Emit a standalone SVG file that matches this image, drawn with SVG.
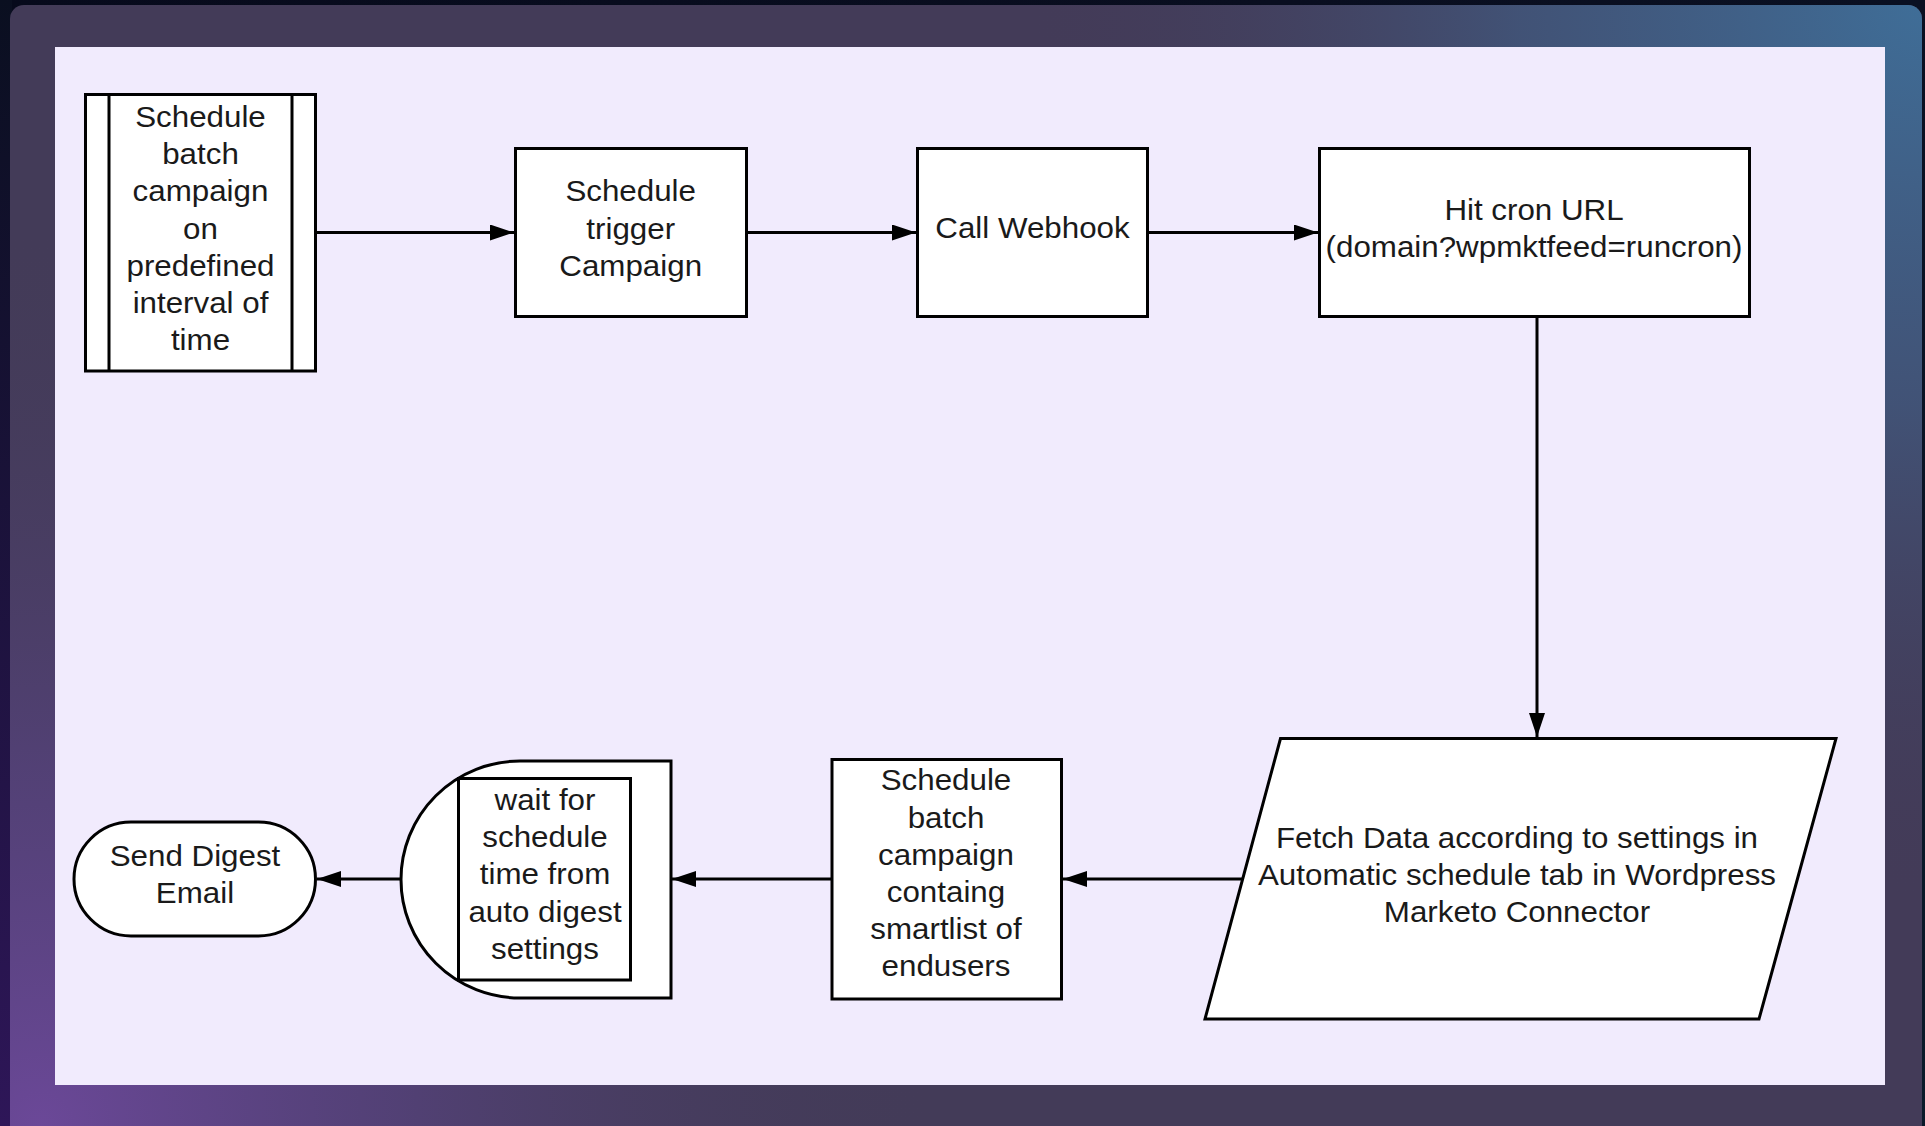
<svg xmlns="http://www.w3.org/2000/svg" width="1925" height="1126" viewBox="0 0 1925 1126">
<defs>
<linearGradient id="bgdark" x1="0" y1="0" x2="1" y2="1">
<stop offset="0" stop-color="#070a1c"/>
<stop offset="0.5" stop-color="#0a1022"/>
<stop offset="1" stop-color="#0a1a2a"/>
</linearGradient>
<linearGradient id="leftdark" x1="0" y1="0" x2="0" y2="1">
<stop offset="0" stop-color="#0a0f20"/>
<stop offset="1" stop-color="#2e1658"/>
</linearGradient>
<radialGradient id="tr" cx="1925" cy="0" r="900" gradientUnits="userSpaceOnUse">
<stop offset="0" stop-color="#3f6e98" stop-opacity="1"/>
<stop offset="0.45" stop-color="#40628a" stop-opacity="0.6"/>
<stop offset="1" stop-color="#433b58" stop-opacity="0"/>
</radialGradient>
<radialGradient id="bl" cx="40" cy="1126" r="900" gradientUnits="userSpaceOnUse">
<stop offset="0" stop-color="#6b4898" stop-opacity="1"/>
<stop offset="0.4" stop-color="#5c4488" stop-opacity="0.6"/>
<stop offset="1" stop-color="#433b58" stop-opacity="0"/>
</radialGradient>
<marker id="arr" markerUnits="userSpaceOnUse" markerWidth="26" markerHeight="18" refX="24" refY="8" orient="auto">
<path d="M0,0 L24,8 L0,16 Z" fill="#000"/>
</marker>
<style>
.shape{fill:#fff;stroke:#000;stroke-width:3}
.conn{fill:none;stroke:#000;stroke-width:3;marker-end:url(#arr)}
.t{font-family:"Liberation Sans",Arial,sans-serif;font-size:29px;fill:#1a1a1a;text-anchor:middle}
</style>
</defs>
<rect x="0" y="0" width="1925" height="1126" fill="url(#bgdark)"/>
<rect x="0" y="0" width="12" height="1126" fill="url(#leftdark)"/>
<rect x="10" y="5" width="1912" height="1135" rx="14" fill="#433b58"/>
<rect x="10" y="5" width="1912" height="1135" rx="14" fill="url(#tr)"/>
<rect x="10" y="5" width="1912" height="1135" rx="14" fill="url(#bl)"/>
<rect x="55" y="47" width="1830" height="1038" fill="#f1ebfd"/>

<g id="connectors">
<line class="conn" x1="316" y1="232.5" x2="514" y2="232.5"/>
<line class="conn" x1="746" y1="232.5" x2="916" y2="232.5"/>
<line class="conn" x1="1148" y1="232.5" x2="1318" y2="232.5"/>
<line class="conn" x1="1537" y1="317" x2="1537" y2="737"/>
<line class="conn" x1="1244" y1="879" x2="1063" y2="879"/>
<line class="conn" x1="831" y1="879" x2="672" y2="879"/>
<line class="conn" x1="401" y1="879" x2="317" y2="879"/>
</g>

<g id="n1">
<rect class="shape" x="85.5" y="94.5" width="230" height="276.5"/>
<line x1="109" y1="94.5" x2="109" y2="371" stroke="#000" stroke-width="3"/>
<line x1="292" y1="94.5" x2="292" y2="371" stroke="#000" stroke-width="3"/>
<g transform="translate(200.5 0) scale(1.08 1) translate(-200.5 0)">
<text class="t" x="200.5" y="127">Schedule</text>
<text class="t" x="200.5" y="164.2">batch</text>
<text class="t" x="200.5" y="201.4">campaign</text>
<text class="t" x="200.5" y="238.6">on</text>
<text class="t" x="200.5" y="275.8">predefined</text>
<text class="t" x="200.5" y="313">interval of</text>
<text class="t" x="200.5" y="350.2">time</text>
</g>
</g>

<g id="n2">
<rect class="shape" x="515.5" y="148.5" width="231" height="168"/>
<g transform="translate(630.7 0) scale(1.08 1) translate(-630.7 0)">
<text class="t" x="630.7" y="201.5">Schedule</text>
<text class="t" x="630.7" y="238.7">trigger</text>
<text class="t" x="630.7" y="275.9">Campaign</text>
</g>
</g>

<g id="n3">
<rect class="shape" x="917.5" y="148.5" width="230" height="168"/>
<g transform="translate(1032.5 0) scale(1.08 1) translate(-1032.5 0)">
<text class="t" x="1032.5" y="238.3">Call Webhook</text>
</g>
</g>

<g id="n4">
<rect class="shape" x="1319.5" y="148.5" width="430" height="168"/>
<g transform="translate(1534 0) scale(1.08 1) translate(-1534 0)">
<text class="t" x="1534" y="220">Hit cron URL</text>
<text class="t" x="1534" y="257.2">(domain?wpmktfeed=runcron)</text>
</g>
</g>

<g id="n5">
<polygon class="shape" points="1280.5,738.5 1836,738.5 1759,1019 1205,1019"/>
<g transform="translate(1517 0) scale(1.08 1) translate(-1517 0)">
<text class="t" x="1517" y="848">Fetch Data according to settings in</text>
<text class="t" x="1517" y="885.2">Automatic schedule tab in Wordpress</text>
<text class="t" x="1517" y="922.4">Marketo Connector</text>
</g>
</g>

<g id="n6">
<rect class="shape" x="832" y="759.5" width="229.5" height="239.5"/>
<g transform="translate(946 0) scale(1.08 1) translate(-946 0)">
<text class="t" x="946" y="790.5">Schedule</text>
<text class="t" x="946" y="827.7">batch</text>
<text class="t" x="946" y="864.9">campaign</text>
<text class="t" x="946" y="902.1">containg</text>
<text class="t" x="946" y="939.3">smartlist of</text>
<text class="t" x="946" y="976.5">endusers</text>
</g>
</g>

<g id="n7">
<path class="shape" d="M671,761 L520,761 A119,118.5 0 0 0 520,998 L671,998 Z"/>
<rect class="shape" x="458.5" y="778.5" width="172" height="201.5"/>
<g transform="translate(545 0) scale(1.08 1) translate(-545 0)">
<text class="t" x="545" y="810">wait for</text>
<text class="t" x="545" y="847.2">schedule</text>
<text class="t" x="545" y="884.4">time from</text>
<text class="t" x="545" y="921.6">auto digest</text>
<text class="t" x="545" y="958.8">settings</text>
</g>
</g>

<g id="n8">
<rect class="shape" x="74" y="822" width="241.5" height="114" rx="57" ry="57"/>
<g transform="translate(195 0) scale(1.08 1) translate(-195 0)">
<text class="t" x="195" y="866">Send Digest</text>
<text class="t" x="195" y="903.2">Email</text>
</g>
</g>
</svg>
